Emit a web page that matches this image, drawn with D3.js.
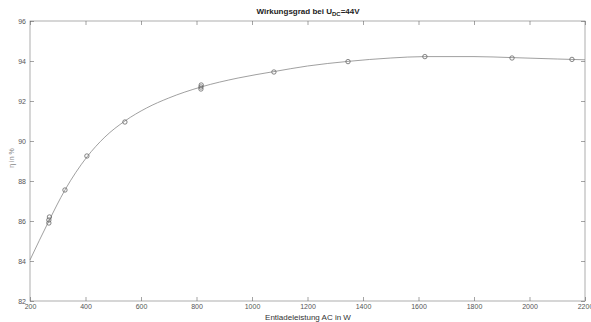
<!DOCTYPE html>
<html>
<head>
<meta charset="utf-8">
<script src="https://cdn.jsdelivr.net/npm/d3@7"></script>
<style>
  body { margin: 0; background: #fff; }
  svg { display: block; font-family: "Liberation Sans", Arial, sans-serif; }
</style>
</head>
<body>
<svg id="chart" width="591" height="322"></svg>
<script>
// measured points (Leistung in W, Wirkungsgrad in %)
const powerW = [268, 268, 270, 326, 405, 542, 816, 816, 817, 1079, 1346, 1623, 1937, 2153];
const effPct = [85.9, 86.05, 86.2, 87.55, 89.25, 90.95, 92.6, 92.7, 92.8, 93.45, 93.97, 94.22, 94.15, 94.08];

// fitted curve
const fitX = [200, 268, 326, 405, 470, 542, 620, 700, 816, 950, 1079, 1200, 1346, 1500, 1623, 1800, 1937, 2100, 2200];
const fitY = [84.05, 86.0, 87.55, 89.2, 90.2, 91.0, 91.65, 92.15, 92.7, 93.15, 93.47, 93.75, 93.98, 94.15, 94.22, 94.22, 94.17, 94.1, 94.06];

const xTicks = [200, 400, 600, 800, 1000, 1200, 1400, 1600, 1800, 2000, 2200];
const yTicks = [82, 84, 86, 88, 90, 92, 94, 96];

const svg = d3.select('#chart');
const plotL = 30, plotR = 585, plotT = 21, plotB = 301;

const x = d3.scaleLinear().domain([200, 2200]).range([plotL, plotR]);
const y = d3.scaleLinear().domain([82, 96]).range([plotB, plotT]);

const axisColor = '#666';
const textColor = '#555';
const fmt = d3.format('d');

// box
svg.append('rect')
  .attr('x', plotL).attr('y', plotT)
  .attr('width', plotR - plotL).attr('height', plotB - plotT)
  .attr('fill', 'none')
  .attr('stroke', '#999')
  .attr('stroke-width', 0.8);

// axes with inward ticks
const tickLen = 4;
svg.append('g')
  .attr('transform', `translate(0,${plotB})`)
  .call(d3.axisBottom(x).tickValues(xTicks).tickFormat(fmt).tickSize(-tickLen).tickPadding(3))
  .call(g => g.select('.domain').remove());
svg.append('g')
  .attr('transform', `translate(0,${plotT})`)
  .call(d3.axisTop(x).tickValues(xTicks).tickSize(-tickLen).tickFormat(''))
  .call(g => g.select('.domain').remove());
svg.append('g')
  .attr('transform', `translate(${plotL},0)`)
  .call(d3.axisLeft(y).tickValues(yTicks).tickFormat(fmt).tickSize(-tickLen).tickPadding(4))
  .call(g => g.select('.domain').remove());
svg.append('g')
  .attr('transform', `translate(${plotR},0)`)
  .call(d3.axisRight(y).tickValues(yTicks).tickSize(-tickLen).tickFormat(''))
  .call(g => g.select('.domain').remove());

svg.selectAll('.tick line')
  .attr('stroke', axisColor)
  .attr('stroke-width', 0.6);
svg.selectAll('.tick text')
  .attr('fill', textColor)
  .attr('font-size', '7px');

// fitted curve
const fitData = fitX.map((d, i) => ({x: d, y: fitY[i]}));
svg.append('path')
  .datum(fitData)
  .attr('fill', 'none')
  .attr('stroke', '#888')
  .attr('stroke-width', 0.8)
  .attr('d', d3.line()
    .x(d => x(d.x))
    .y(d => y(d.y))
    .curve(d3.curveMonotoneX));

// measured points
svg.append('g')
  .selectAll('circle')
  .data(powerW.map((d, i) => ({x: d, y: effPct[i]})))
  .enter().append('circle')
  .attr('cx', d => x(d.x))
  .attr('cy', d => y(d.y))
  .attr('r', 2.2)
  .attr('fill', 'none')
  .attr('stroke', '#666')
  .attr('stroke-width', 0.8);

// title
const title = svg.append('text')
  .attr('x', 308).attr('y', 14)
  .attr('text-anchor', 'middle')
  .attr('font-size', '8px')
  .attr('font-weight', 'bold')
  .attr('fill', '#222');
title.append('tspan').text('Wirkungsgrad bei U');
title.append('tspan').attr('font-size', '6px').attr('dy', 2).text('DC');
title.append('tspan').attr('dy', -2).text('=44V');

// axis labels
svg.append('text')
  .attr('x', 308).attr('y', 320)
  .attr('text-anchor', 'middle')
  .attr('font-size', '8px')
  .attr('fill', '#333')
  .text('Entladeleistung AC in W');

svg.append('text')
  .attr('transform', 'translate(14,158) rotate(-90)')
  .attr('text-anchor', 'middle')
  .attr('font-size', '7px')
  .attr('fill', '#888')
  .text('η in %');
</script>
</body>
</html>
